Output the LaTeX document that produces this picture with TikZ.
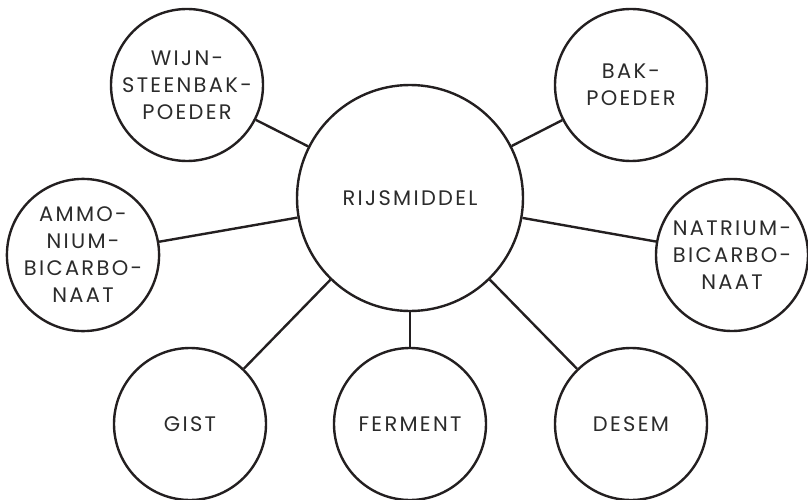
\documentclass[tikz,border=0pt]{standalone}
\usepackage{fontspec}
\setmainfont[LetterSpace=11]{Poppins}
\definecolor{ink}{HTML}{231F20}
\definecolor{txt}{HTML}{2B2B2B}
\begin{document}
\begin{tikzpicture}[x=1pt,y=-1pt,
  bubble/.style={circle,draw=ink,line width=2.4pt,fill=white,minimum size=152pt,inner sep=0pt,
    align=center,text=txt,font=\fontsize{21}{27}\selectfont},
  hub/.style={bubble,minimum size=226pt},
  link/.style={draw=ink,line width=2.4pt}]
\useasboundingbox (0,0) rectangle (808,500);
\node[hub] (c) at (410,198) {RIJSMIDDEL};
\node[bubble] (w) at (187,85) {WIJN-\\STEENBAK-\\POEDER};
\node[bubble] (b) at (631,85) {BAK-\\POEDER};
\node[bubble] (a) at (83,255) {AMMO-\\NIUM-\\BICARBO-\\NAAT};
\node[bubble] (n) at (732,255) {NATRIUM-\\BICARBO-\\NAAT};
\node[bubble] (g) at (190,424) {GIST};
\node[bubble] (f) at (410,424) {FERMENT};
\node[bubble] (d) at (631,424) {DESEM};
\foreach \t in {w,b,a,n,g,f,d} \draw[link] (c) -- (\t);
\end{tikzpicture}
\end{document}
